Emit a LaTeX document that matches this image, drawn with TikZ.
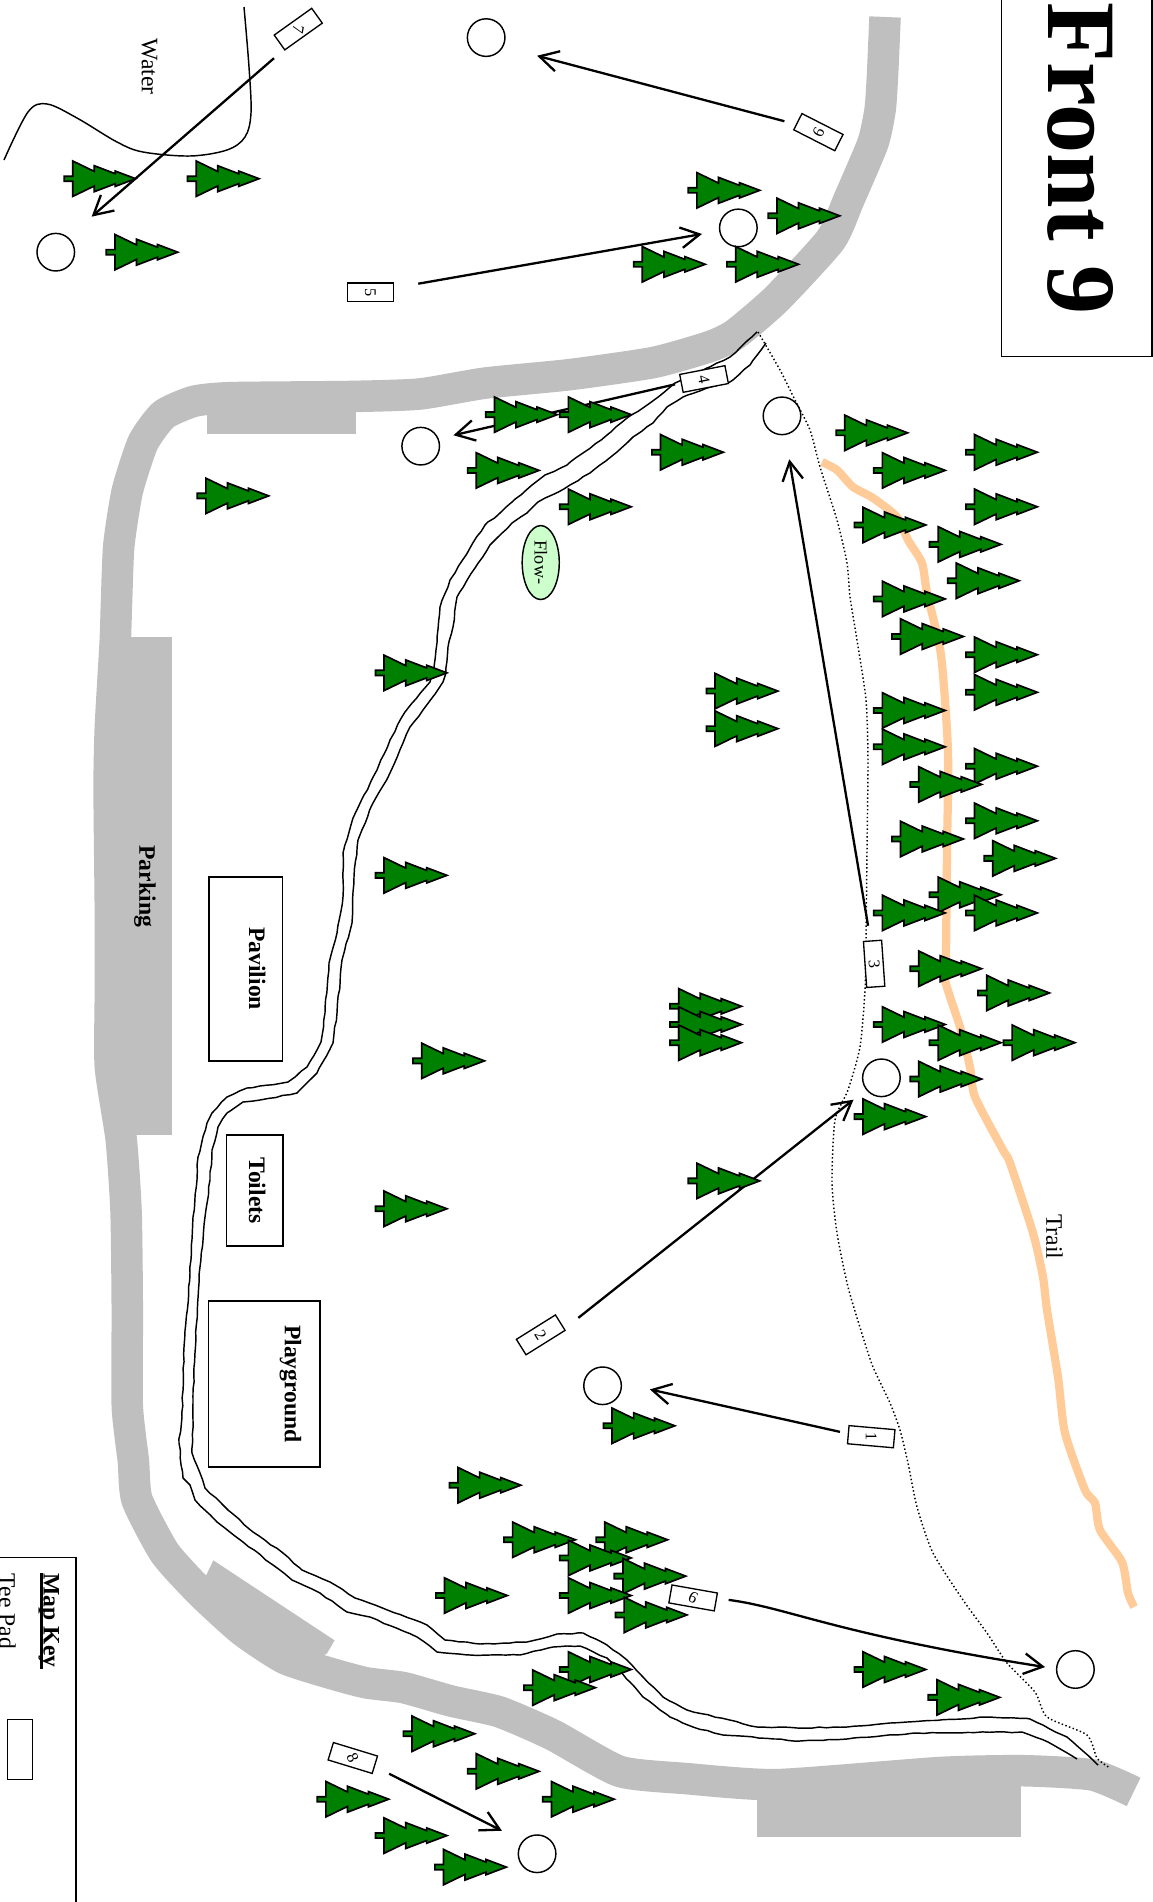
\documentclass[tikz,border=0pt]{standalone}
\usepackage{fontspec}
\setmainfont{Liberation Serif}
\usetikzlibrary{arrows.meta,shapes.geometric,decorations.pathmorphing}
\definecolor{roadgray}{HTML}{BFBFBF}
\definecolor{treegreen}{HTML}{008000}
\definecolor{trailorange}{HTML}{FFCC99}
\definecolor{flowgreen}{HTML}{CCFFCC}
\pgfmathsetseed{7}
\tikzset{
  thinline/.style={draw=black,line width=1.2pt},
  roadline/.style={draw=roadgray,line width=26pt,line join=round},
  trailline/.style={draw=trailorange,line width=6.8pt,line join=round},
  creekline/.style={draw=black,line width=1.2pt,line join=round,decorate,decoration={random steps,segment length=6pt,amplitude=.45pt}},
  dotline/.style={draw=black,line width=1.2pt,dash pattern=on 1.2pt off 2pt},
  waterline/.style={draw=black,line width=1.2pt},
  arw/.style={draw=black,line width=1.9pt,-{Straight Barb[length=15.5pt,width=17pt,line width=1.9pt]}},
  hole/.style={circle,draw=black,fill=white,line width=1.2pt,minimum size=31pt,inner sep=0pt},
  teebox/.style={rectangle,draw=black,fill=white,line width=1.1pt,minimum width=38pt,minimum height=15pt,inner sep=0pt,font=\fontsize{13.5}{13.5}\selectfont},
  bldg/.style={rectangle,draw=black,line width=1.2pt,inner sep=0pt},
  boldlabel/.style={font=\fontsize{19.5}{20}\selectfont\bfseries,rotate=-90,anchor=base,inner sep=0pt},
  plainlabel/.style={font=\fontsize{19.5}{20}\selectfont,rotate=-90,anchor=base,inner sep=0pt},
  pinetree/.pic={
    \path[draw=black,fill=treegreen,line width=1.4pt,line join=miter,miter limit=4]
      (.7,-2.1)--(7.8,-2.1)--(7.8,-14.6)--(25.6,-6)--(25.6,-10.7)--(42.9,-4.1)--(42.9,-6.3)--(59.6,0)
      --(42.9,6.3)--(42.9,4.1)--(25.6,10.7)--(25.6,6)--(7.8,14.6)--(7.8,2.1)--(.7,2.1)--cycle;
  }
}
\begin{document}
\begin{tikzpicture}[x=1pt,y=-1pt]
\useasboundingbox (0,0) rectangle (951,1568.8);
% road
\draw[roadline] plot[smooth,tension=.35] coordinates {(730,14)(728,60)(726,90)(720,118)(700,165)(685,198)(640,247)(606,276)(585,286)(539,299)(470,309)(400,316)(346,325)(290,327)(190,328)(160,331)(135,342)(118,365)(105,405)(98,450)(96,500)(95,530)(91,600)(90,650)(91,750)(91,820)(91,880)(100,940)(104,1000)(105,1080)(105,1160)(110,1205)(113,1237)(136,1281)(166,1314)(200,1345)(235,1368)(272,1380)(302,1388)(333,1392)(372,1403)(412,1412)(456,1431)(511,1461)(566,1467)(641,1472)(775,1462)(844,1460.5)(901,1464)(935,1478)};
\fill[roadgray] (624,1465) rectangle (842,1515);
\fill[roadgray] (95,525) rectangle (142,936);
\fill[roadgray] (171,325) rectangle (294,358);
\fill[roadgray] (176,1287)--(276,1353)--(269.5,1364)--(240,1378)--(160,1320)--cycle;
\begin{scope}[x=.82481pt,y=-.82481pt]
% trail
\draw[trailline] plot[smooth,tension=.4] coordinates {(822,462)(837,470)(853,487)(873,498)(897,517)(908,540)(922,563)(927,593)(941,655)(948,752)(947,850)(946,953)(945,980)(960,1027)(970,1067)(975,1097)(1003,1150)(1010,1163)(1033,1233)(1043,1277)(1047,1310)(1058,1377)(1065,1433)(1085,1490)(1095,1503)(1100,1530)(1122,1562)(1128,1593)(1134,1607)};
% creek
\draw[creekline] (757,332)--(730,357)--(707,368)--(675,383)--(650,403)--(627,418)--(607,435)--(583,453)--(567,465)--(545,475)--(532,485)--(512,502)--(500,513)--(485,525)--(470,548)--(450,580)--(440,607)--(437,643)--(434,667)--(430,682)--(405,712)--(390,740)--(377,770)--(353,818)--(343,853)--(343,897)--(337,933)--(329,963)--(325,1013)--(321,1042)--(307,1067)--(288,1082)--(247,1088)--(227,1097)--(212,1113)--(207,1123)--(198,1157)--(197,1180)--(193,1217)--(190,1273)--(184,1347)--(182,1417)--(179,1443)--(183,1478)--(190,1485)--(195,1500)--(217,1522)--(243,1542)--(273,1565)--(292,1580)--(320,1593)--(347,1612)--(370,1617)--(417,1637)--(437,1652)--(470,1655)--(520,1655)--(553,1647)--(580,1646)--(607,1658)--(630,1682)--(643,1697)--(670,1717)--(693,1727)--(723,1735)--(800,1741)--(847,1739)--(917,1733)--(1022,1732)--(1048,1742)--(1077,1759);
\draw[creekline] (766,343)--(750,365)--(730,382)--(707,388)--(683,397)--(667,407)--(653,423)--(633,437)--(617,452)--(590,473)--(570,485)--(552,495)--(538,502)--(527,513)--(512,523)--(490,545)--(475,568)--(457,597)--(453,627)--(448,647)--(446,673)--(443,682)--(423,710)--(410,727)--(403,743)--(390,773)--(373,803)--(358,840)--(354,877)--(352,923)--(342,960)--(337,1013)--(333,1043)--(317,1073)--(297,1093)--(260,1100)--(243,1102)--(227,1113)--(218,1127)--(212,1150)--(210,1180)--(205,1217)--(200,1267)--(194,1367)--(193,1420)--(192,1453)--(200,1473)--(205,1488)--(223,1505)--(253,1532)--(283,1553)--(302,1570)--(330,1582)--(355,1598)--(380,1607)--(427,1625)--(445,1640)--(480,1644)--(527,1642)--(557,1634)--(583,1633)--(607,1645)--(627,1660)--(643,1677)--(663,1697)--(687,1710)--(757,1727)--(797,1728)--(847,1727)--(907,1722)--(990,1717)--(1030,1719)--(1067,1737)--(1098,1765);
% dotted path
\draw[dotline] plot[smooth,tension=.4] coordinates {(758,332)(780,370)(795,400)(810,430)(820,467)(837,520)(847,563)(850,597)(857,640)(866,700)(868,760)(867,850)(866,940)(865,990)(860,1047)(848,1090)(835,1120)(832,1183)(837,1233)(848,1287)(863,1337)(873,1367)(890,1403)(900,1430)(908,1463)(917,1507)(933,1553)(963,1600)(987,1633)(1007,1663)(1035,1692)(1047,1717)(1087,1735)(1097,1758)(1110,1768)};
% water
\draw[waterline] plot[smooth,tension=.55] coordinates {(244,7)(249,67)(251,113)(245,137)(227,150)(190,156)(143,152)(117,142)(77,118)(47,104)(28,112)(4,160)};
\end{scope}
% holes
\node[hole] (hole1) at (497,1143) {};
\node[hole] (hole2) at (727,889) {};
\node[hole] (hole3) at (645,343) {};
\node[hole] (hole4) at (347,368) {};
\node[hole] (hole5) at (609,188) {};
\node[hole] (hole6) at (401,31) {};
\node[hole] (hole7) at (46,208) {};
\node[hole] (hole8) at (443,1529) {};
\node[hole] (hole9) at (887,1377) {};
% tee boxes
\node[teebox,rotate=-5] (tee1) at (718.6,1185) {\rotatebox{-85}{1}};
\node[teebox,rotate=32] (tee2) at (446,1101) {\rotatebox{-90}{2}};
\node[teebox,rotate=-86] (tee3) at (721,795) {3};
\node[teebox,rotate=11] (tee4) at (580.7,312.6) {\rotatebox{-90}{4}};
\node[teebox,rotate=0] (tee5) at (305.5,241) {\rotatebox{-90}{5}};
\node[teebox,rotate=-27] (tee6) at (675,109) {\rotatebox{90}{6}};
\node[teebox,rotate=-144.5] (tee7) at (246,24) {\rotatebox{44.5}{7}};
\node[teebox,rotate=-17] (tee8) at (291,1450) {\rotatebox{-47}{8}};
\node[teebox,rotate=-10] (tee9) at (571.7,1318) {\rotatebox{165}{9}};
% arrows
\draw[arw] ([shift={(-25.8,-4)}]tee1.center) -- ([shift={(39,3)}]hole1.center);
\draw[arw] ([shift={(31,-14)}]tee2.center) -- ([shift={(-23,18)}]hole2.center);
\draw[arw] ([shift={(-5,-31.4)}]tee3.center) -- ([shift={(6,35.8)}]hole3.center);
\draw[arw] ([shift={(-23.9,4.4)}]tee4.center) -- ([shift={(27,-9)}]hole4.center);
\draw[arw] ([shift={(39.5,-7)}]tee5.center) -- ([shift={(-30,5)}]hole5.center);
\draw[arw] ([shift={(-28,-9)}]tee6.center) -- ([shift={(42,15)}]hole6.center);
\draw[arw] ([shift={(-20,24)}]tee7.center) -- ([shift={(29.6,-29.3)}]hole7.center);
\draw[arw] ([shift={(30,13)}]tee8.center) -- ([shift={(-29,-19)}]hole8.center);
\draw[arw] ([shift={(29.3,1.6)}]tee9.center) .. controls (650,1326) and (690,1348) .. ([shift={(-25,-2)}]hole9.center);
% trees
\foreach \tx/\ty in {52.2/147.4,154/147.4,87/208,567/157,633/178,522/218,599/218,400/342,461/342,385/388,537/373,461/418,162/409,689/357,720/388,796/373,796/418,704/433,766/449,781/479,720/494,735/525,796/540,796/571,720/586,720/616,796/632,750/647,796/677,735/692,811/708,766/738,720/753,796/753,750/799,806/819,720/845,766/860,827/860,750/890,704/921,582/570,582/601,309/555,309/722,340/875,552/830,552/845,552/860,567/974,309/997,497/1176,370/1225,491/1270,415/1270,461/1285,506/1300,358.8/1316,461/1316,507/1332,461/1377,431.5/1392,704/1377,765/1400,332/1430,385/1461,447/1484,261/1484,309/1514,358/1540}
  \pic at (\tx,\ty) {pinetree};
% ellipse
\node[ellipse,draw=black,fill=flowgreen,line width=1.2pt,minimum width=30.6pt,minimum height=61pt,inner sep=0pt,font=\fontsize{15}{15}\selectfont] (flow) at (446,464) {\rotatebox{-90}{Flow-}};
% buildings
\node[bldg,minimum width=60.3pt,minimum height=151.5pt] (pav) at (202.65,799.25) {};
\node[bldg,minimum width=46.5pt,minimum height=91.6pt] (toil) at (210.25,981.8) {};
\node[bldg,minimum width=92pt,minimum height=137pt] (play) at (218,1141.5) {};
\node[boldlabel] (pavt) at (205.5,799) {Pavilion};
\node[boldlabel] (toilt) at (205.4,982) {Toilets};
\node[boldlabel] (playt) at (235,1141.5) {Playground};
\node[boldlabel] (parkt) at (115,731) {Parking};
\node[plainlabel] (watert) at (117,55) {Water};
\node[plainlabel] (trailt) at (863,1020) {Trail};
% title
\draw[thinline] (826,0) -- (826,294) -- (950,294) -- (950,0);
\node[rotate=-90,anchor=base west,inner sep=0pt,font=\fontsize{81}{81}\selectfont\bfseries] (title) at (865,2) {Front 9};
% key
\draw[thinline] (0,1284.5) -- (62.7,1284.5) -- (62.7,1569);
\node[boldlabel] (keyt) at (36,1336.7) {Map Key};
\draw[draw=black,line width=2.2pt] ([shift={(-1.8,-39)}]keyt.base) -- ([shift={(-1.8,40)}]keyt.base);
\node[plainlabel] (teet) at (-.5,1329) {Tee Pad};
\node[bldg,minimum width=20.4pt,minimum height=49.5pt] (keybox) at (16.5,1443.2) {};
\end{tikzpicture}
\end{document}
